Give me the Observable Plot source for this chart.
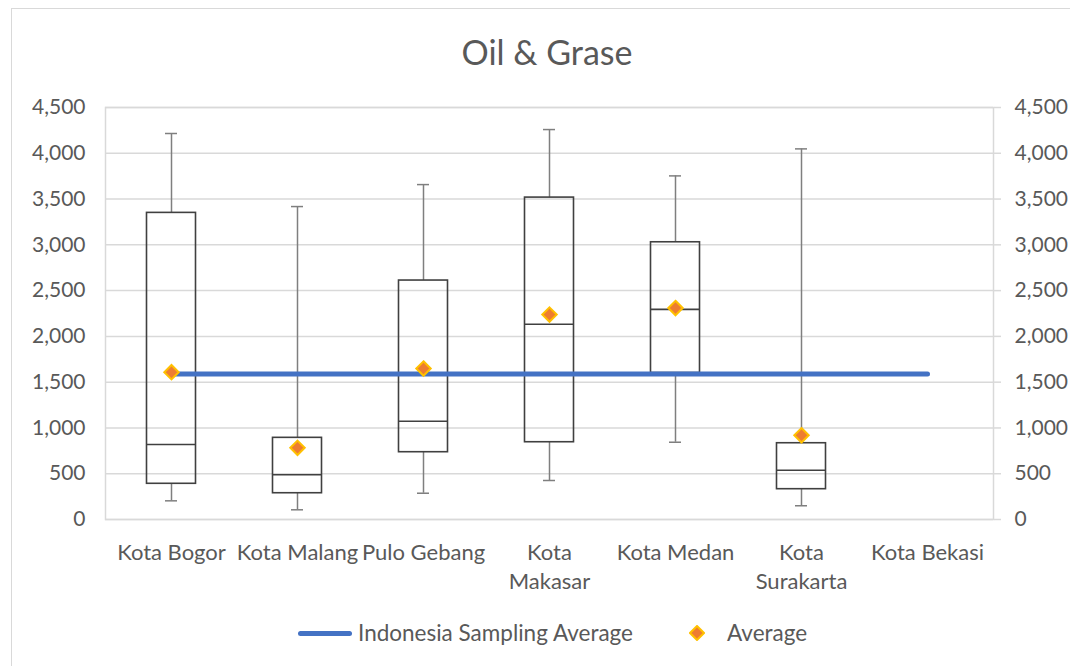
<!DOCTYPE html>
<html>
<head>
<meta charset="utf-8">
<script src="https://cdn.jsdelivr.net/npm/d3@7"></script>
<script src="https://cdn.jsdelivr.net/npm/@observablehq/plot@0.6"></script>
<style>
  body { margin: 0; background: #fff; font-family: Lato, sans-serif; color: #595959; }
  #wrap { position: relative; width: 1070px; height: 666px; overflow: hidden; background: #fff; }
  #border { position: absolute; left: 11px; top: 8px; width: 1200px; height: 800px;
            border-left: 1.5px solid #d9d9d9; border-top: 1.5px solid #d9d9d9; }
  #title { position: absolute; top: 29px; left: 12px; width: 1070px; text-align: center;
           font-size: 34px; line-height: 46px; color: #595959; }
  #chart { position: absolute; left: 0; top: 90px; }
  .leg { position: absolute; font-size: 22.5px; line-height: 24px; top: 621px; color: #595959; white-space: nowrap; }
  #legLine { position: absolute; left: 298px; top: 631px; width: 54px; height: 5px; border-radius: 3px; background: #4472C4; }
  #legDot { position: absolute; left: 689px; top: 625px; }
</style>
</head>
<body>
<div id="wrap">
  <div id="border"></div>
  <div id="title">Oil &amp; Grase</div>
  <div id="chart"></div>
  <div id="legLine"></div>
  <div class="leg" style="left:358px">Indonesia Sampling Average</div>
  <svg id="legDot" width="16" height="16"><polygon points="8,1 15,8 8,15 1,8" fill="#ED7D31" stroke="#FFC000" stroke-width="2"/></svg>
  <div class="leg" style="left:727px">Average</div>
</div>
<script>
const categories = ["Kota Bogor", "Kota Malang", "Pulo Gebang", "Kota Makasar", "Kota Medan", "Kota Surakarta", "Kota Bekasi"];
const tickLabels = ["Kota Bogor", "Kota Malang", "Pulo Gebang", "Kota\nMakasar", "Kota Medan", "Kota\nSurakarta", "Kota Bekasi"];
const minValues     = [204, 106, 287, 426, 844, 150, null];
const q1Values      = [390, 287, 735, 844, 1600, 331, null];
const medianValues  = [819, 488, 1073, 2133, 2295, 538, null];
const q3Values      = [3349, 892, 2610, 3516, 3028, 833, null];
const maxValues     = [4216, 3418, 3658, 4259, 3753, 4048, null];
const averageValues = [1609, 783, 1649, 2238, 2310, 920, null];
const samplingAverage = [1590, 1590, 1590, 1590, 1590, 1590, 1590];
const yTicks = [0, 500, 1000, 1500, 2000, 2500, 3000, 3500, 4000, 4500];

const rows = categories.map((c, i) => ({
  cat: c, min: minValues[i], q1: q1Values[i], median: medianValues[i],
  q3: q3Values[i], max: maxValues[i], avg: averageValues[i], sampling: samplingAverage[i]
}));
const boxes = rows.filter(d => d.q1 != null);
const avgs = rows.filter(d => d.avg != null);
const fmt = d3.format(",");
const whisker = "#7f7f7f", boxStroke = "#404040";

const chart = Plot.plot({
  width: 1070, height: 529,
  marginLeft: 105, marginRight: 77, marginTop: 17, marginBottom: 100,
  x: {type: "band", domain: categories, padding: 0},
  y: {domain: [0, 4500]},
  style: {fontFamily: "Lato, sans-serif", fontSize: "21px", color: "#595959", background: "transparent", overflow: "visible"},
  marks: [
    Plot.ruleY(yTicks, {stroke: "#d9d9d9", strokeWidth: 1.5}),
    Plot.frame({stroke: "#d9d9d9", strokeWidth: 1.5}),
    Plot.axisY({anchor: "left", ticks: yTicks, tickFormat: fmt, tickSize: 0, tickPadding: 20, label: null}),
    Plot.axisY({anchor: "right", ticks: yTicks, tickFormat: fmt, tickSize: 7, tickPadding: 14, stroke: "#d9d9d9", strokeWidth: 1.5, label: null}),
    Plot.axisX({tickSize: 0, tickPadding: 19, label: null, lineHeight: 1.35, fontSize: 22,
                tickFormat: d => tickLabels[categories.indexOf(d)]}),
    Plot.ruleX(boxes, {x: "cat", y1: "q3", y2: "max", stroke: whisker, strokeWidth: 1.5}),
    Plot.ruleX(boxes, {x: "cat", y1: "min", y2: "q1", stroke: whisker, strokeWidth: 1.5}),
    Plot.tickY(boxes, {x: "cat", y: "max", stroke: whisker, strokeWidth: 1.5, insetLeft: 57, insetRight: 57}),
    Plot.tickY(boxes, {x: "cat", y: "min", stroke: whisker, strokeWidth: 1.5, insetLeft: 57, insetRight: 57}),
    Plot.barY(boxes, {x: "cat", y1: "q1", y2: "q3", fill: "none", stroke: boxStroke, strokeWidth: 1.6, insetLeft: 38.5, insetRight: 38.5}),
    Plot.tickY(boxes, {x: "cat", y: "median", stroke: boxStroke, strokeWidth: 1.6, insetLeft: 38.5, insetRight: 38.5}),
    Plot.line(rows, {x: "cat", y: "sampling", stroke: "#4472C4", strokeWidth: 5, strokeLinecap: "round"}),
    Plot.dot(avgs, {x: "cat", y: "avg", symbol: "diamond2", r: 6.5, fill: "#ED7D31", stroke: "#FFC000", strokeWidth: 2})
  ]
});
document.getElementById("chart").appendChild(chart);
</script>
</body>
</html>
